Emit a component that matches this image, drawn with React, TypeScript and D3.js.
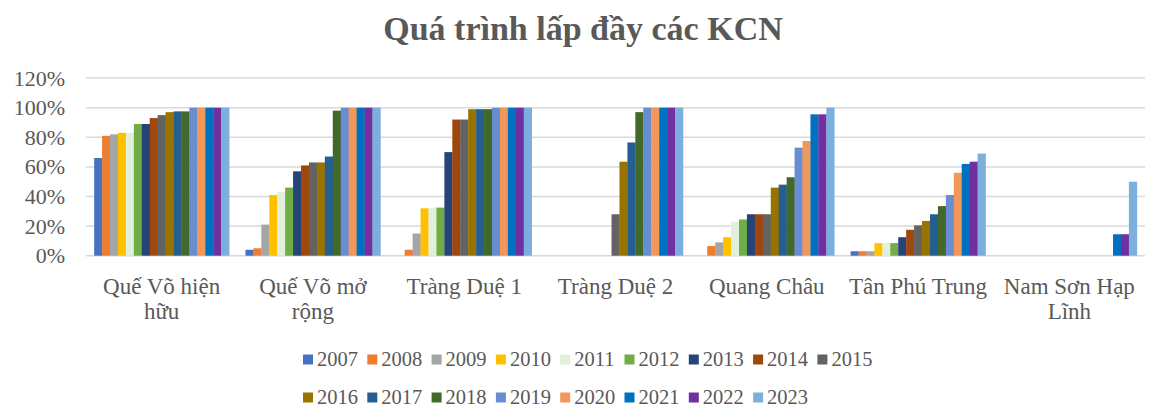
import React, { useEffect, useMemo } from "react";
import * as d3 from "d3";

const title = "Quá trình lấp đầy các KCN";
const categories = [
  "Quế Võ hiện hữu",
  "Quế Võ mở rộng",
  "Tràng Duệ 1",
  "Tràng Duệ 2",
  "Quang Châu",
  "Tân Phú Trung",
  "Nam Sơn Hạp Lĩnh",
];
const years = ["2007","2008","2009","2010","2011","2012","2013","2014","2015","2016","2017","2018","2019","2020","2021","2022","2023"];
const yearColors = ["#4472C4","#ED7D31","#A5A5A5","#FFC000","#E2EFDA","#70AD47","#264478","#9E480E","#636363","#997300","#255E91","#43682B","#698ED0","#F1975A","#0070C0","#7030A0","#7CAFDD"];

// Values (%) per industrial zone, in year order 2007..2023
const queVoHienHuu = [66, 81, 82, 83, 83, 89, 89, 93, 95, 97, 97.5, 97.5, 100, 100, 100, 100, 100];
const queVoMoRong = [4, 5, 21, 41, 43, 46, 57, 61, 63, 63, 67, 98, 100, 100, 100, 100, 100];
const trangDue1 = [0, 4, 15, 32, 32.5, 32.5, 70, 92, 92, 99, 99, 99, 100, 100, 100, 100, 100];
const trangDue2 = [0, 0, 0, 0, 0, 0, 0, 0, 28, 63.5, 76.5, 97, 100, 100, 100, 100, 100];
const quangChau = [0, 6.5, 9, 12.5, 23, 24.5, 28, 28, 28, 46, 48, 53, 73, 77.5, 95.5, 95.5, 100];
const tanPhuTrung = [3, 3, 3, 8.5, 8.5, 8.5, 12.5, 17.5, 20.5, 23.5, 28, 33.5, 41, 56, 62, 63.5, 69];
const namSonHapLinh = [0, 0, 0, 0, 0, 0, 0, 0, 0, 0, 0, 0, 0, 0, 14.5, 14.5, 50];

const yTicks = [0, 20, 40, 60, 80, 100, 120];

const seriesByCategory = [queVoHienHuu, queVoMoRong, trangDue1, trangDue2, quangChau, tanPhuTrung, namSonHapLinh];

const W = 1152;
const H = 408;
const TEXT = "#595959";
const FONT = "'Liberation Serif', 'Times New Roman', serif";

function wrapLabel(text: string, maxW: number, font: string): string[] {
  const canvas = document.createElement("canvas");
  const ctx = canvas.getContext("2d")!;
  ctx.font = font;
  const words = text.split(" ");
  const lines: string[] = [];
  let cur = "";
  for (const w of words) {
    const test = cur ? cur + " " + w : w;
    if (ctx.measureText(test).width > maxW && cur) {
      lines.push(cur);
      cur = w;
    } else cur = test;
  }
  if (cur) lines.push(cur);
  return lines;
}

export default function App() {
  useEffect(() => {
    document.documentElement.style.overflow = "hidden";
    document.body.style.margin = "0";
    document.body.style.overflow = "hidden";
  }, []);

  const left = 86;
  const right = 1145;
  const y0 = 255.7;
  const y120 = 78.1;

  const x0 = d3.scaleBand<string>().domain(categories).range([left, right]).paddingInner(0.108).paddingOuter(0.054);
  const x1 = d3.scaleBand<string>().domain(years).range([0, x0.bandwidth()]).padding(0);
  const y = d3.scaleLinear().domain([0, 120]).range([y0, y120]);

  const catFont = `23px ${FONT}`;
  const wrapped = useMemo(() => categories.map((c) => wrapLabel(c, 150, catFont)), []);

  const legendX0 = 303;
  const legendStep = 64.3;
  const legendRowY = [359.5, 397.5];

  return (
    <div style={{ position: "fixed", left: 0, top: 0, width: W, height: H, overflow: "hidden" }}>
      <svg width={W} height={H} style={{ display: "block", background: "#fff" }} fontFamily={FONT}>
        <text x={583} y={40} textAnchor="middle" fontSize={34} fontWeight="bold" fill={TEXT}>
          {title}
        </text>
        {yTicks.map((t) => (
          <g key={t}>
            <line x1={left} x2={right} y1={y(t)} y2={y(t)} stroke="#D9D9D9" strokeWidth={1.5} />
            <text x={65} y={y(t) + 7.5} textAnchor="end" fontSize={22} fill={TEXT}>
              {t}%
            </text>
          </g>
        ))}
        {categories.map((c, ci) => (
          <g key={c} transform={`translate(${x0(c)},0)`}>
            {years.map((yr, yi) => {
              const v = seriesByCategory[ci][yi];
              return (
                <rect
                  key={yr}
                  x={x1(yr)}
                  y={y(v)}
                  width={x1.bandwidth() + 0.3}
                  height={y0 - y(v)}
                  fill={yearColors[yi]}
                />
              );
            })}
          </g>
        ))}
        {categories.map((c, ci) => (
          <text key={c} textAnchor="middle" fontSize={23} fill={TEXT}>
            {wrapped[ci].map((ln, li) => (
              <tspan key={li} x={(x0(c) as number) + x0.bandwidth() / 2} y={293.7 + li * 25.5}>
                {ln}
              </tspan>
            ))}
          </text>
        ))}
        {years.map((yr, i) => {
          const col = i % 9;
          const row = Math.floor(i / 9);
          const lx = legendX0 + col * legendStep;
          const ly = legendRowY[row];
          return (
            <g key={yr}>
              <rect x={lx} y={ly - 5} width={10} height={10} fill={yearColors[i]} />
              <text x={lx + 14} y={ly + 6.5} fontSize={20.5} fill={TEXT}>
                {yr}
              </text>
            </g>
          );
        })}
      </svg>
    </div>
  );
}
